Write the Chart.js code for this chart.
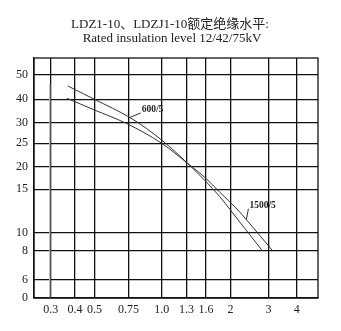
<!DOCTYPE html>
<html>
<head>
<meta charset="utf-8">
<script src="https://cdn.jsdelivr.net/npm/chart.js@4/dist/chart.umd.min.js"></script>
<style>html,body{margin:0;background:#fff;}</style>
</head>
<body>
<canvas id="chart" width="341" height="331"></canvas>
<script>
// === DATA ===
const titleLines = ["LDZ1-10、LDZJ1-10额定绝缘水平:", "Rated insulation level 12/42/75kV"];
const xTickValues = [0.3, 0.4, 0.5, 0.75, 1.0, 1.3, 1.6, 2, 3, 4];
const xTickLabels = ["0.3", "0.4", "0.5", "0.75", "1.0", "1.3", "1.6", "2", "3", "4"];
const yTickValues = [0, 6, 8, 10, 15, 20, 25, 30, 40, 50];
const yTickLabels = ["0", "6", "8", "10", "15", "20", "25", "30", "40", "50"];

const ratio600X = [0.37, 0.5, 0.77, 1.0, 1.32, 1.6, 1.82, 2.02, 2.84];
const ratio600Y = [45.5, 40, 32, 25.8, 20.7, 16.7, 14.2, 12.5, 8];
const ratio1500X = [0.367, 0.5, 0.735, 1.0, 1.32, 1.6, 1.82, 2.2, 2.42, 3.15];
const ratio1500Y = [40.4, 35.5, 29.9, 25, 20.7, 17.4, 14.7, 12.6, 11.5, 8];
const markerX = [0.296, 0.296];
const markerY = [46.3, 0];

// callouts: [text, curve x, curve y, label x, label y]
const callouts = [
    ["600/5", 0.76, 32.3, 0.85, 35.5],
    ["1500/5", 2.42, 11.5, 2.5, 13.1]
];

// === LAYOUT (the printed grid is not evenly spaced) ===
const plotW = 284, plotH = 240;
const xGridPos = [16.7, 41, 60.4, 94.4, 127.7, 152.4, 172, 196.4, 234.4, 262.7];
const yGridPos = [0, 18, 47.3, 65.3, 108.7, 131.3, 154.7, 175, 198.7, 223];

function warp(v, vals, pos) {
    let i = 0;
    while (i < vals.length - 2 && v > vals[i + 1]) i++;
    const t = (v - vals[i]) / (vals[i + 1] - vals[i]);
    return pos[i] + t * (pos[i + 1] - pos[i]);
}
const wx = v => warp(v, xTickValues, xGridPos);
const wy = v => warp(v, yTickValues, yGridPos);
const pts = (xs, ys) => xs.map((x, i) => ({ x: wx(x), y: wy(ys[i]) }));

const serif = "'Liberation Serif', 'DejaVu Serif', 'Noto Sans CJK SC', serif";

const framePlugin = {
    id: "frame",
    afterDatasetsDraw(chart) {
        const { ctx, chartArea: a, scales } = chart;
        ctx.save();
        ctx.strokeStyle = "#111";
        ctx.lineWidth = 1.3;
        ctx.strokeRect(a.left, a.top, a.right - a.left, a.bottom - a.top);

        ctx.font = "bold 9.5px " + serif;
        ctx.fillStyle = "#222";
        ctx.textBaseline = "middle";
        ctx.strokeStyle = "#333";
        ctx.lineWidth = 1;
        callouts.forEach(([txt, cx, cy, lx, ly]) => {
            const x0 = scales.x.getPixelForValue(wx(cx));
            const y0 = scales.y.getPixelForValue(wy(cy));
            const x1 = scales.x.getPixelForValue(wx(lx));
            const y1 = scales.y.getPixelForValue(wy(ly));
            ctx.beginPath();
            ctx.moveTo(x0, y0);
            ctx.lineTo(x1 - 1, y1 + 3);
            ctx.stroke();
            ctx.fillText(txt, x1, y1);
        });

        ctx.font = "13px " + serif;
        ctx.textAlign = "center";
        ctx.fillText(titleLines[0], 170, 25);
        ctx.fillText(titleLines[1], 172, 39);
        ctx.restore();
    }
};

const ctx = document.getElementById("chart").getContext("2d");
const lineStyle = {
    borderColor: "#333",
    borderWidth: 1,
    pointRadius: 0,
    fill: false,
    cubicInterpolationMode: "monotone"
};

new Chart(ctx, {
    type: "line",
    data: {
        datasets: [
            { label: "600/5", data: pts(ratio600X, ratio600Y), ...lineStyle },
            { label: "1500/5", data: pts(ratio1500X, ratio1500Y), ...lineStyle },
            { label: "marker", data: pts(markerX, markerY), borderColor: "#bbb", borderWidth: 1.3, pointRadius: 0, tension: 0 }
        ]
    },
    options: {
        responsive: false,
        animation: false,
        layout: { padding: { top: 58, right: 23, left: 0, bottom: 0 } },
        plugins: { legend: { display: false }, tooltip: { enabled: false } },
        scales: {
            x: {
                type: "linear",
                min: 0,
                max: plotW,
                afterBuildTicks: s => { s.ticks = xGridPos.map(v => ({ value: v })); },
                afterFit: s => { s.height = 33; },
                ticks: {
                    autoSkip: false,
                    maxRotation: 0,
                    padding: 5,
                    color: "#222",
                    font: { family: serif, size: 12 },
                    callback: (v, i) => xTickLabels[i]
                },
                grid: { color: "#111", lineWidth: 1.3, drawTicks: false },
                border: { color: "#111", width: 1.3 }
            },
            y: {
                type: "linear",
                min: 0,
                max: plotH,
                afterBuildTicks: s => { s.ticks = yGridPos.map(v => ({ value: v })); },
                afterFit: s => { s.width = 34; },
                ticks: {
                    autoSkip: false,
                    padding: 6,
                    color: "#222",
                    font: { family: serif, size: 12 },
                    callback: (v, i) => yTickLabels[i]
                },
                grid: { color: "#111", lineWidth: 1.3, drawTicks: false },
                border: { color: "#111", width: 1.3 }
            }
        }
    },
    plugins: [framePlugin]
});
</script>
</body>
</html>
